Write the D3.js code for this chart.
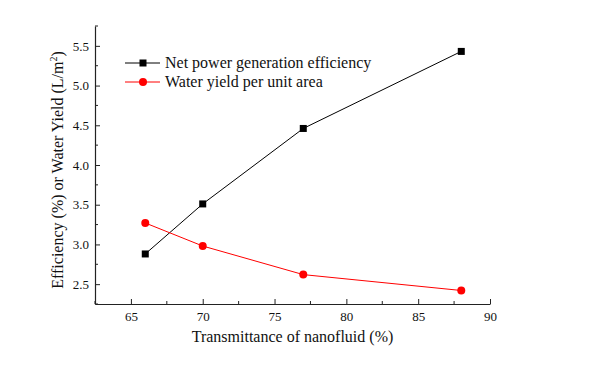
<!DOCTYPE html>
<html>
<head>
<meta charset="utf-8">
<script src="https://cdn.jsdelivr.net/npm/d3@7"></script>
<style>
  body { margin: 0; background: #fff; }
  svg text { font-family: "Liberation Serif", "Times New Roman", serif !important; fill: #111; }
</style>
</head>
<body>
<svg id="chart" width="594" height="376"></svg>
<script>
// data
const transmittance = [66, 70, 77, 88];
const efficiency = [2.88, 3.51, 4.46, 5.43];
const waterYield = [3.27, 2.98, 2.62, 2.42];
const xTicks = [65, 70, 75, 80, 85, 90];
const yTicks = [2.5, 3.0, 3.5, 4.0, 4.5, 5.0, 5.5];

const svg = d3.select("#chart");
const margin = { top: 26, right: 104, bottom: 72, left: 95 };
const width = 594 - margin.left - margin.right;
const height = 376 - margin.top - margin.bottom;

const x = d3.scaleLinear().domain([62.5, 90]).range([0, width]);
const y = d3.scaleLinear().domain([2.25, 5.75]).range([height, 0]);

const g = svg.append("g").attr("transform", `translate(${margin.left},${margin.top})`);

// minor ticks
const xMinor = d3.range(62.5, 90.01, 2.5).filter(v => !xTicks.includes(v));
const yMinor = d3.range(2.25, 5.76, 0.25).filter(v => !yTicks.some(t => Math.abs(t - v) < 1e-6));

g.selectAll(".xminor").data(xMinor).enter().append("line")
  .attr("x1", d => x(d)).attr("x2", d => x(d))
  .attr("y1", height).attr("y2", height - 3)
  .attr("stroke", "#222").attr("stroke-width", 1);
g.selectAll(".yminor").data(yMinor).enter().append("line")
  .attr("x1", 0).attr("x2", 3)
  .attr("y1", d => y(d)).attr("y2", d => y(d))
  .attr("stroke", "#222").attr("stroke-width", 1);

// axes, ticks inward
const xAxis = g.append("g")
  .attr("transform", `translate(0,${height})`)
  .call(d3.axisBottom(x).tickValues(xTicks).tickSize(-5).tickPadding(8).tickSizeOuter(0));
const yAxis = g.append("g")
  .call(d3.axisLeft(y).tickValues(yTicks).tickFormat(d3.format(".1f")).tickSize(-5).tickPadding(6).tickSizeOuter(0));

[xAxis, yAxis].forEach(a => {
  a.attr("font-family", "Liberation Serif").attr("font-size", 13);
  a.select(".domain").attr("stroke", "#222").attr("stroke-width", 1.2);
  a.selectAll(".tick line").attr("stroke", "#222");
  a.selectAll(".tick text").attr("fill", "#111");
});

// axis titles
svg.append("text")
  .attr("x", margin.left + width / 2)
  .attr("y", 342)
  .attr("text-anchor", "middle")
  .style("font-size", "16px")
  .text("Transmittance of nanofluid (%)");

const yl = svg.append("text")
  .attr("transform", `translate(63,${margin.top + height / 2 + 5}) rotate(-90)`)
  .attr("text-anchor", "middle")
  .style("font-size", "16px");
yl.append("tspan").text("Efficiency (%) or Water Yield (L/m");
yl.append("tspan").attr("dy", -6).style("font-size", "10px").text("2");
yl.append("tspan").attr("dy", 6).text(")");

// series
const series = [
  { name: "Net power generation efficiency", values: efficiency, color: "#000", shape: "square" },
  { name: "Water yield per unit area", values: waterYield, color: "#ff0000", shape: "circle" }
];

const line = d3.line().x(d => x(d[0])).y(d => y(d[1]));

function drawMarker(sel, s, cx, cy) {
  if (s.shape === "square") {
    sel.append("rect").attr("x", cx - 3.5).attr("y", cy - 3.5).attr("width", 7).attr("height", 7)
      .attr("fill", s.color);
  } else {
    sel.append("circle").attr("cx", cx).attr("cy", cy).attr("r", 4).attr("fill", s.color);
  }
}

series.forEach(s => {
  const pts = transmittance.map((t, i) => [t, s.values[i]]);
  g.append("path").datum(pts).attr("d", line)
    .attr("fill", "none").attr("stroke", s.color).attr("stroke-width", 1);
  pts.forEach(p => drawMarker(g, s, x(p[0]), y(p[1])));
});

// legend
series.forEach((s, i) => {
  const ly = 63 + i * 19;
  svg.append("line").attr("x1", 125).attr("x2", 160).attr("y1", ly).attr("y2", ly)
    .attr("stroke", s.color).attr("stroke-width", 1);
  drawMarker(svg, s, 143, ly);
  svg.append("text").attr("x", 165).attr("y", ly + 5)
    .style("font-size", "16px").text(s.name);
});
</script>
</body>
</html>
